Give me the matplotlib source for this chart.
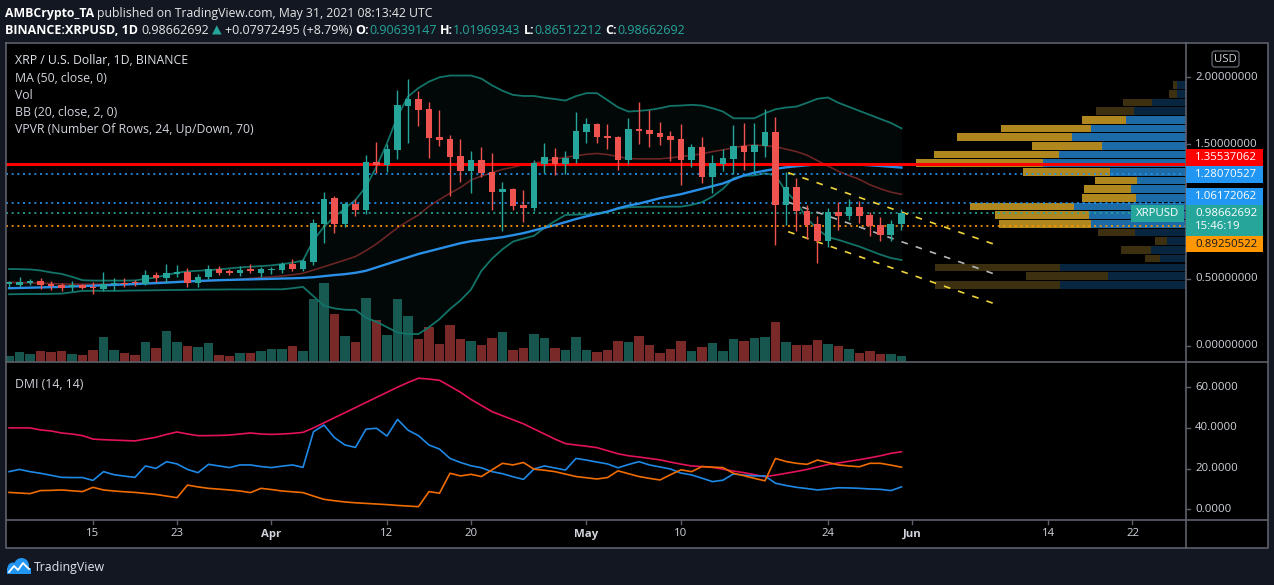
import numpy as np
import pandas as pd
import matplotlib
matplotlib.use("Agg")
import matplotlib.pyplot as plt
import matplotlib.dates as mdates
from matplotlib.patches import Rectangle, Circle, FancyBboxPatch
from matplotlib.lines import Line2D
from matplotlib.transforms import IdentityTransform

# ---------------------------------------------------------------- data
dates = pd.date_range("2021-03-07", "2021-05-31", freq="D")

open_ = [0.460, 0.457, 0.472, 0.484, 0.465, 0.455, 0.437, 0.452, 0.440, 0.425,
         0.460, 0.469, 0.472, 0.462, 0.529, 0.509, 0.539, 0.551, 0.472, 0.511,
         0.571, 0.556, 0.541, 0.571, 0.546, 0.566, 0.566, 0.611, 0.573, 0.625,
         0.908, 1.102, 0.908, 1.057, 1.013, 1.370, 1.348, 1.460, 1.790, 1.839,
         1.765, 1.556, 1.541, 1.415, 1.303, 1.385, 1.296, 1.149, 1.169, 1.050,
         1.030, 1.358, 1.407, 1.358, 1.395, 1.594, 1.653, 1.564, 1.556, 1.385,
         1.616, 1.609, 1.586, 1.564, 1.541, 1.385, 1.482, 1.258, 1.355, 1.392,
         1.489, 1.445, 1.489, 1.594, 1.050, 1.184, 1.005, 0.908, 0.782, 0.998,
         0.968, 1.035, 0.975, 0.901, 0.827, 0.90639147]
high = [0.487, 0.511, 0.502, 0.504, 0.484, 0.472, 0.482, 0.465, 0.474, 0.551,
        0.506, 0.504, 0.494, 0.566, 0.548, 0.613, 0.603, 0.581, 0.536, 0.603,
        0.593, 0.576, 0.596, 0.611, 0.591, 0.591, 0.628, 0.645, 0.645, 0.943,
        1.144, 1.117, 1.075, 1.092, 1.420, 1.522, 1.504, 1.906, 1.988, 1.898,
        1.817, 1.757, 1.571, 1.541, 1.452, 1.482, 1.437, 1.221, 1.176, 1.161,
        1.385, 1.512, 1.474, 1.452, 1.742, 1.698, 1.660, 1.653, 1.564, 1.698,
        1.817, 1.757, 1.668, 1.601, 1.653, 1.504, 1.556, 1.422, 1.464, 1.646,
        1.660, 1.660, 1.765, 1.705, 1.296, 1.251, 1.050, 0.968, 1.027, 1.072,
        1.095, 1.080, 0.998, 0.961, 0.938, 1.01969343]
low = [0.442, 0.442, 0.455, 0.427, 0.420, 0.410, 0.412, 0.427, 0.390, 0.410,
       0.420, 0.442, 0.445, 0.455, 0.474, 0.472, 0.516, 0.442, 0.442, 0.501,
       0.529, 0.531, 0.524, 0.541, 0.511, 0.536, 0.546, 0.561, 0.561, 0.605,
       0.769, 0.839, 0.888, 0.970, 0.983, 1.286, 1.298, 1.390, 1.514, 1.641,
       1.402, 1.489, 1.119, 1.224, 1.142, 1.261, 1.015, 0.859, 1.015, 0.926,
       1.008, 1.291, 1.276, 1.278, 1.365, 1.514, 1.512, 1.467, 1.310, 1.358,
       1.504, 1.482, 1.497, 1.378, 1.199, 1.333, 1.214, 1.140, 1.303, 1.281,
       1.310, 1.288, 1.407, 0.752, 0.901, 0.856, 0.797, 0.618, 0.737, 0.864,
       0.938, 0.916, 0.819, 0.782, 0.782, 0.86512212]
close = [0.474, 0.477, 0.487, 0.457, 0.450, 0.435, 0.455, 0.435, 0.428, 0.462,
         0.470, 0.465, 0.467, 0.529, 0.509, 0.544, 0.553, 0.472, 0.514, 0.571,
         0.541, 0.540, 0.566, 0.556, 0.571, 0.574, 0.611, 0.573, 0.633, 0.913,
         1.095, 0.908, 1.057, 1.013, 1.370, 1.348, 1.467, 1.795, 1.839, 1.757,
         1.551, 1.536, 1.407, 1.303, 1.385, 1.291, 1.149, 1.169, 1.045, 1.030,
         1.363, 1.407, 1.358, 1.400, 1.601, 1.653, 1.556, 1.549, 1.385, 1.616,
         1.601, 1.579, 1.556, 1.534, 1.385, 1.482, 1.258, 1.363, 1.400, 1.489,
         1.445, 1.497, 1.594, 1.050, 1.184, 1.005, 0.901, 0.782, 0.998, 0.968,
         1.035, 0.968, 0.894, 0.827, 0.908, 0.98662692]
volume = [6, 10, 8, 11, 10, 11, 8, 7, 12, 25,
          12, 9, 7, 20, 14, 31, 20, 16, 15, 19,
          7, 6, 9, 9, 11, 13, 13, 16, 11, 63,
          79, 48, 26, 20, 64, 42, 27, 63, 46, 23,
          35, 18, 37, 23, 21, 17, 24, 30, 12, 14,
          28, 24, 14, 12, 25, 12, 10, 12, 21, 20,
          26, 17, 9, 13, 21, 11, 15, 19, 11, 23,
          21, 24, 25, 40, 20, 17, 17, 22, 18, 16,
          13, 9, 11, 8, 8, 6]
ma50 = [0.430, 0.432, 0.434, 0.436, 0.438, 0.440, 0.443, 0.446, 0.449, 0.452,
        0.455, 0.458, 0.461, 0.465, 0.468, 0.472, 0.476, 0.480, 0.484, 0.487,
        0.490, 0.492, 0.494, 0.496, 0.498, 0.500, 0.502, 0.504, 0.507, 0.512,
        0.520, 0.528, 0.535, 0.545, 0.560, 0.585, 0.610, 0.635, 0.660, 0.685,
        0.705, 0.725, 0.745, 0.765, 0.780, 0.790, 0.800, 0.810, 0.825, 0.840,
        0.860, 0.880, 0.900, 0.922, 0.945, 0.965, 0.983, 1.000, 1.025, 1.045,
        1.060, 1.080, 1.100, 1.115, 1.130, 1.150, 1.170, 1.190, 1.210, 1.240,
        1.270, 1.290, 1.305, 1.318, 1.330, 1.338, 1.345, 1.352, 1.353, 1.353,
        1.353, 1.350, 1.345, 1.340, 1.334, 1.328]
bb_upper = [0.573, 0.572, 0.570, 0.562, 0.548, 0.537, 0.515, 0.490, 0.487, 0.487,
            0.487, 0.487, 0.488, 0.500, 0.510, 0.530, 0.545, 0.555, 0.560, 0.565,
            0.570, 0.578, 0.585, 0.590, 0.595, 0.600, 0.610, 0.620, 0.637, 0.787,
            0.888, 0.962, 1.025, 1.087, 1.186, 1.335, 1.509, 1.708, 1.857, 1.920,
            1.968, 2.000, 2.013, 2.013, 2.013, 1.990, 1.940, 1.900, 1.869, 1.861,
            1.861, 1.848, 1.838, 1.827, 1.860, 1.882, 1.882, 1.830, 1.777, 1.745,
            1.750, 1.757, 1.770, 1.787, 1.790, 1.795, 1.790, 1.770, 1.745, 1.695,
            1.695, 1.695, 1.733, 1.762, 1.775, 1.782, 1.810, 1.840, 1.850, 1.810,
            1.780, 1.750, 1.720, 1.690, 1.660, 1.620]
bb_basis = [0.474, 0.472, 0.470, 0.468, 0.465, 0.462, 0.460, 0.460, 0.460, 0.460,
            0.461, 0.463, 0.466, 0.470, 0.473, 0.476, 0.479, 0.482, 0.484, 0.486,
            0.489, 0.492, 0.497, 0.503, 0.510, 0.515, 0.521, 0.530, 0.541, 0.565,
            0.590, 0.615, 0.640, 0.666, 0.710, 0.760, 0.820, 0.880, 0.930, 0.975,
            1.040, 1.090, 1.137, 1.180, 1.235, 1.265, 1.290, 1.315, 1.330, 1.350,
            1.360, 1.375, 1.390, 1.405, 1.415, 1.427, 1.433, 1.425, 1.410, 1.395,
            1.393, 1.393, 1.393, 1.400, 1.410, 1.420, 1.430, 1.447, 1.460, 1.475,
            1.490, 1.497, 1.490, 1.484, 1.465, 1.447, 1.420, 1.380, 1.340, 1.300,
            1.270, 1.240, 1.200, 1.170, 1.145, 1.129]
bb_lower = [0.385, 0.386, 0.387, 0.387, 0.388, 0.390, 0.400, 0.410, 0.411, 0.411,
            0.410, 0.412, 0.413, 0.414, 0.415, 0.416, 0.417, 0.418, 0.419, 0.420,
            0.420, 0.421, 0.421, 0.421, 0.422, 0.422, 0.422, 0.430, 0.440, 0.370,
            0.300, 0.280, 0.270, 0.268, 0.210, 0.180, 0.140, 0.100, 0.089, 0.089,
            0.140, 0.200, 0.275, 0.340, 0.420, 0.560, 0.650, 0.720, 0.777, 0.800,
            0.820, 0.880, 0.930, 0.975, 0.978, 0.980, 0.983, 1.000, 1.020, 1.033,
            1.035, 1.037, 1.037, 1.037, 1.037, 1.050, 1.070, 1.112, 1.170, 1.250,
            1.266, 1.270, 1.285, 1.270, 1.150, 1.070, 0.950, 0.870, 0.810, 0.790,
            0.765, 0.740, 0.710, 0.680, 0.655, 0.640]
adx = [40.0, 40.0, 40.0, 39.0, 38.5, 37.5, 37.0, 36.2, 34.5, 34.2,
       34.0, 33.8, 33.6, 34.5, 35.4, 36.8, 38.0, 37.0, 36.2, 36.2,
       36.3, 36.5, 37.0, 37.5, 37.0, 36.8, 37.0, 37.3, 37.8, 40.0,
       42.5, 45.0, 47.5, 50.0, 52.5, 55.0, 57.5, 60.0, 62.3, 64.4,
       64.0, 63.4, 60.5, 57.5, 54.0, 51.0, 48.0, 46.0, 44.0, 42.0,
       39.5, 37.0, 34.5, 32.3, 31.6, 31.0, 30.3, 28.8, 27.3, 26.3,
       25.7, 25.0, 24.3, 23.2, 22.2, 21.3, 21.0, 20.6, 19.7, 18.8,
       18.0, 17.0, 16.0, 16.8, 17.7, 18.6, 19.6, 20.8, 22.0, 22.8,
       23.6, 24.4, 25.3, 26.3, 27.5, 28.3]
di_plus = [18.5, 19.6, 18.5, 17.7, 16.7, 15.7, 15.6, 15.6, 14.2, 18.5,
           17.0, 16.3, 15.7, 21.3, 20.1, 23.4, 22.3, 19.6, 18.0, 22.1,
           21.3, 20.5, 21.8, 21.8, 21.0, 20.5, 21.2, 21.8, 20.6, 38.1,
           41.4, 35.2, 31.6, 30.4, 39.4, 39.8, 36.0, 44.2, 38.9, 36.2,
           31.6, 29.6, 25.0, 23.0, 21.4, 20.4, 18.5, 17.5, 16.0, 14.7,
           19.8, 21.3, 20.3, 19.3, 25.0, 24.2, 23.2, 22.3, 20.4, 22.0,
           23.4, 21.8, 20.8, 19.8, 17.8, 16.9, 15.3, 13.6, 14.3, 17.4,
           16.8, 16.4, 16.4, 12.8, 11.7, 10.8, 10.2, 9.5, 10.0, 10.6,
           10.5, 10.3, 10.0, 9.8, 9.2, 11.0]
di_minus = [8.3, 8.0, 7.7, 9.2, 9.3, 9.5, 9.1, 8.7, 10.8, 9.5,
            9.0, 8.6, 8.3, 7.8, 7.3, 6.5, 5.7, 11.9, 11.0, 10.3,
            9.9, 9.5, 9.0, 8.2, 10.3, 9.7, 9.0, 8.6, 8.2, 6.5,
            4.9, 4.2, 3.6, 3.2, 2.9, 2.6, 2.3, 1.9, 1.6, 1.3,
            8.7, 7.9, 17.7, 16.4, 17.2, 16.1, 19.4, 22.6, 21.8, 23.0,
            19.7, 19.2, 18.5, 17.3, 16.1, 15.5, 14.9, 15.6, 18.9, 17.5,
            16.1, 15.2, 14.4, 17.0, 19.4, 18.5, 21.0, 20.7, 20.5, 17.7,
            16.5, 15.2, 14.0, 25.0, 23.5, 22.6, 22.1, 24.2, 23.0, 21.8,
            21.3, 20.9, 22.6, 22.6, 21.7, 20.7]

# Visible-range volume profile, 24 rows, bottom row first
vp_low, vp_high = 0.424, 1.975
vp_up = [126, 78, 126, 26, 35, 19, 51, 95, 97, 112, 50, 55, 49, 76, 143, 127,
         84, 114, 95, 60, 52, 34, 9, 9]
vp_down = [125, 82, 125, 15, 30, 12, 37, 92, 94, 104, 54, 47, 42, 87, 127, 125,
           70, 115, 90, 44, 38, 29, 8, 4]
vp_value_area = (7, 19)

poc_price = 1.35537062
blue_levels = [1.28070527, 1.06172062]
last_price = 0.98662692
orange_level = 0.89250522
countdown = "15:46:19"

channel_dates = ["2021-05-20 05:00", "2021-06-09 05:00"]
channel_upper = [1.290, 0.747]
channel_lower = [0.851, 0.305]

price_ticks = [0.0, 0.5, 1.5, 2.0]
dmi_ticks = [0, 20, 40, 60]
date_ticks = ["2021-03-15", "2021-03-23", "2021-04-01", "2021-04-12", "2021-04-20",
              "2021-05-01", "2021-05-10", "2021-05-24", "2021-06-01", "2021-06-14",
              "2021-06-22"]
date_labels = ["15", "23", "Apr", "12", "20", "May", "10", "24", "Jun", "14", "22"]
month_labels = {"Apr", "May", "Jun"}

title1 = [("AMBCrypto_TA", "#ffffff", "bold"),
          (" published on TradingView.com, May 31, 2021 08:13:42 UTC", "#e6e6e6", "normal")]
legend_lines = ["XRP / U.S. Dollar, 1D, BINANCE", "MA (50, close, 0)", "Vol",
                "BB (20, close, 2, 0)", "VPVR (Number Of Rows, 24, Up/Down, 70)"]

# ---------------------------------------------------------------- style
W, H = 1274, 585
BG = "#131722"
PANE = "#000000"
TXT = "#d1d4dc"
BORDER = "#5d606b"
UP, DOWN = "#26a69a", "#ef5350"
VOL_UP, VOL_DOWN = "#16564f", "#7a2929"
FONT = ["Open Sans", "DejaVu Sans"]
AXFONT = ["Open Sans", "DejaVu Sans"]

fig = plt.figure(figsize=(W / 100, H / 100), dpi=100)
fig.patch.set_facecolor(BG)
renderer = fig.canvas.get_renderer()


def frect(l, t, r, b):
    return [l / W, 1 - b / H, (r - l) / W, (b - t) / H]


def fbox(x0, y0, x1, y1, fc, ec="none", lw=0, z=5):
    fig.add_artist(Rectangle((x0 / W, 1 - y1 / H), (x1 - x0) / W, (y1 - y0) / H,
                             transform=fig.transFigure, facecolor=fc,
                             edgecolor=ec, linewidth=lw, zorder=z))


def fline(xs, ys, color, lw=1.0, z=6):
    fig.add_artist(Line2D([x / W for x in xs], [1 - y / H for y in ys],
                          transform=fig.transFigure, color=color, lw=lw, zorder=z))


def ftext(x, y, s, size, color=TXT, weight="normal", ha="left", family=FONT, z=8):
    return fig.text(x / W, 1 - y / H, s, fontsize=size, color=color, fontweight=weight,
                    ha=ha, va="center", family=family, zorder=z)


def text_w(s, size, weight="normal", family=FONT):
    t = fig.text(0, 0, s, fontsize=size, fontweight=weight, family=family)
    w = t.get_window_extent(renderer).width
    t.remove()
    return w


def space_w(size, weight):
    return text_w("a a", size, weight) - text_w("aa", size, weight)


def runs_width(parts, size):
    tot = 0.0
    for s, _, wt in parts:
        core = s.strip(" ")
        nsp = len(s) - len(core)
        tot += (text_w(core, size, wt) if core else 0) + nsp * space_w(size, wt)
    return tot


def draw_runs(x, y, parts, size):
    for s, col, wt in parts:
        lead = len(s) - len(s.lstrip(" "))
        trail = len(s) - len(s.rstrip(" "))
        core = s.strip(" ")
        sw = space_w(size, wt)
        x += lead * sw
        if core:
            ftext(x, y, core, size, color=col, weight=wt)
            x += text_w(core, size, wt)
        x += trail * sw


def fit_size(parts, target, base=8.0):
    return base * target / runs_width(parts, base)


# chart backdrop
fbox(6, 42.5, 1268, 548, PANE, z=-1)

x = mdates.date2num(dates)
o = np.array(open_); c = np.array(close); hi = np.array(high); lo = np.array(low)
is_up = c >= o
x0 = x[0] - 0.286
x1 = x[0] + 112.1
price_lim = ((346 - 361.5) / 134.35, (346 - 43) / 134.35)
main_rect = frect(6, 43, 1186, 361.5)

# volume (bottom layer)
vax = fig.add_axes(main_rect, facecolor=PANE)
vax.bar(x, volume, width=0.9, color=np.where(is_up, VOL_UP, VOL_DOWN), linewidth=0)
vax.set_xlim(x0, x1)
vax.set_ylim(0, 318.5)
vax.axis("off")

# volume profile layer
vpax = fig.add_axes(main_rect, facecolor="none")
n_rows = len(vp_up)
edges = np.linspace(vp_low, vp_high, n_rows + 1)
row_h = edges[1] - edges[0]
in_va = np.array([vp_value_area[0] <= i <= vp_value_area[1] for i in range(n_rows)])
vpax.barh(edges[:-1] + row_h * 0.06, vp_up, height=row_h * 0.88, left=0, align="edge",
          color=np.where(in_va, "#1c6ba6", "#08263f"), linewidth=0)
vpax.barh(edges[:-1] + row_h * 0.06, vp_down, height=row_h * 0.88, left=vp_up,
          align="edge", color=np.where(in_va, "#b0871e", "#3d3011"), linewidth=0)
vpax.set_xlim(1180, 0)
vpax.set_ylim(*price_lim)
vpax.axis("off")

# main price pane
ax = fig.add_axes(main_rect, facecolor="none")
ax.set_xlim(x0, x1)
ax.set_ylim(*price_lim)
ax.axis("off")

ax.fill_between(x, bb_lower, bb_upper, color="#26a69a", alpha=0.05, linewidth=0, zorder=1)
ax.plot(x, bb_upper, color="#137368", lw=1.3, zorder=2)
ax.plot(x, bb_lower, color="#137368", lw=1.3, zorder=2)
ax.plot(x, bb_basis, color="#6b2424", lw=1.2, zorder=2)
ax.plot(x, ma50, color="#2a8fe6", lw=1.7, zorder=3)

ax.axhline(poc_price, color="#ff0000", lw=2.2, zorder=4)
for lvl in blue_levels:
    ax.axhline(lvl, color="#2196f3", lw=1.2, ls=(0, (1.2, 2.2)), zorder=4)
ax.axhline(last_price, color="#26a69a", lw=1.2, ls=(0, (1.2, 2.2)), zorder=4)
ax.axhline(orange_level, color="#ff9800", lw=1.2, ls=(0, (1.2, 2.2)), zorder=4)

cx = mdates.date2num(pd.to_datetime(channel_dates))
ch_mid = [(a + b) / 2 for a, b in zip(channel_upper, channel_lower)]
ax.plot(cx, channel_upper, color="#f0d43a", lw=1.2, dashes=(4, 5), zorder=4.5)
ax.plot(cx, channel_lower, color="#f0d43a", lw=1.2, dashes=(4, 5), zorder=4.5)
ax.plot(cx, ch_mid, color="#b5b5b5", lw=1.2, dashes=(4, 5), zorder=4.5)

cols = np.where(is_up, UP, DOWN)
ax.vlines(x, lo, hi, colors=cols, lw=1.0, zorder=5)
body_lo = np.minimum(o, c)
body_h = np.maximum(np.abs(c - o), 0.006)
ax.bar(x, body_h, bottom=body_lo, width=0.66, color=cols, linewidth=0, zorder=6)

# DMI pane
dax = fig.add_axes(frect(6, 362.5, 1186, 520), facecolor=PANE)
dax.plot(x, adx, color="#e3125a", lw=1.2)
dax.plot(x, di_plus, color="#1e88e5", lw=1.2)
dax.plot(x, di_minus, color="#ef6c00", lw=1.2)
dax.set_xlim(x0, x1)
dax.set_ylim((509.3 - 520) / 2.035, (509.3 - 362.5) / 2.035)
dax.axis("off")


def img_y(axis, v):
    return H - axis.transData.transform((axis.get_xlim()[0], v))[1]


def img_x(axis, v):
    return axis.transData.transform((v, axis.get_ylim()[0]))[0]


# frame lines
fline([6, 1268, 1268, 6, 6], [42.5, 42.5, 548, 548, 42.5], BORDER, lw=1.2)
fline([1186, 1186], [42.5, 548], BORDER, lw=1.2)
fline([6, 1268], [362, 362], BORDER, lw=1.2)
fline([6, 1268], [520, 520], BORDER, lw=1.2)

# price axis
ax_size = 7.3 * 61 / text_w("2.00000000", 7.3, family=AXFONT)
for p in price_ticks:
    yy = img_y(ax, p)
    fline([1186, 1190], [yy, yy], BORDER, lw=1)
    ftext(1195, yy, f"{p:.8f}", ax_size, color=TXT, family=AXFONT)

# USD box
fig.add_artist(FancyBboxPatch((1212, H - 67), 27, 16, boxstyle="round,pad=0,rounding_size=3",
                              transform=IdentityTransform(), facecolor="none",
                              edgecolor=BORDER, linewidth=1, zorder=7))
ftext(1225.5, 59, "USD", ax_size, color=TXT, ha="center", family=AXFONT)

# level labels (image-pixel offsets to avoid overlap, as TradingView does)
labels = [(poc_price, "#ff0000", "#ffffff", -6.3),
          (blue_levels[0], "#2196f3", "#ffffff", 0.5),
          (blue_levels[1], "#2196f3", "#ffffff", -7.0),
          (orange_level, "#ff9800", "#131722", 18.0)]
for val, bg, fg, off in labels:
    yy = img_y(ax, val) + off
    fbox(1186, yy - 8.3, 1263, yy + 8.3, bg, z=7)
    ftext(1195, yy, f"{val:.8f}", ax_size, color=fg, family=AXFONT)

yl = img_y(ax, last_price)
fbox(1186, yl - 8.2, 1263, yl + 22.2, "#26a69a", z=7)
ftext(1195, yl, f"{last_price:.8f}", ax_size, color="#ffffff", family=AXFONT)
ftext(1195, yl + 13.5, countdown, ax_size, color="#ffffff", family=AXFONT)
fbox(1131, yl - 8.5, 1184, yl + 8.8, "#26a69a", z=7)
ftext(1157.5, yl, "XRPUSD", ax_size, color="#ffffff", ha="center", family=AXFONT)

# DMI axis
for v in dmi_ticks:
    yy = img_y(dax, v)
    fline([1186, 1190], [yy, yy], BORDER, lw=1)
    ftext(1195, yy, f"{v:.4f}", ax_size, color=TXT, family=AXFONT)

# date axis
for d, lab in zip(date_ticks, date_labels):
    xx = img_x(dax, mdates.date2num(pd.Timestamp(d)))
    fline([xx, xx], [520, 524], BORDER, lw=1)
    ftext(xx, 534, lab, ax_size, color=TXT, ha="center",
          weight="bold" if lab in month_labels else "normal", family=AXFONT)

# header
h1 = fit_size(title1, 429)
draw_runs(5, 13, title1, h1)
teal = "#26a69a"
white = "#ffffff"
title2 = [("BINANCE:XRPUSD, 1D", white, "bold"),
          (f" {close[-1]:.8f} ", "#e6e6e6", "normal"),
          ("\u25b2", teal, "normal"),
          (f" +{close[-1] - close[-2]:.8f} (+8.79%) ", "#e6e6e6", "normal"),
          ("O:", white, "bold"), (f"{open_[-1]:.8f}", teal, "normal"),
          (" H:", white, "bold"), (f"{high[-1]:.8f}", teal, "normal"),
          (" L:", white, "bold"), (f"{low[-1]:.8f}", teal, "normal"),
          (" C:", white, "bold"), (f"{close[-1]:.8f}", teal, "normal")]
title2[3] = (" +0.07972495 (+8.79%) ", "#e6e6e6", "normal")
draw_runs(5, 30, title2, fit_size(title2, 678))

# pane legends
lg = fit_size([(legend_lines[-1], TXT, "normal")], 240)
for i, s in enumerate(legend_lines):
    ftext(15, 61 + 17.1 * i, s, lg, color="#e0e3eb" if i == 0 else TXT)
ftext(15, 384, "DMI (14, 14)", lg, color=TXT)

# footer logo + name
logo = "#2196f3"
for (cxp, cyp, r) in [(13, 568, 5.5), (21.5, 565.5, 7.5)]:
    fig.add_artist(Circle((cxp, H - cyp), r, transform=IdentityTransform(),
                          facecolor=logo, edgecolor="none", zorder=7))
fig.add_artist(Rectangle((7, H - 574), 24, 6, transform=IdentityTransform(),
                         facecolor=logo, edgecolor="none", zorder=7))
fig.add_artist(Line2D([9, 14, 18, 23, 29], [H - 572, H - 566, H - 570, H - 563, H - 569],
                      transform=IdentityTransform(), color="#ffffff", lw=1.3, zorder=8))
ft = fit_size([("TradingView", TXT, "normal")], 71)
ftext(34, 567, "TradingView", ft, color="#e0e3eb")

fig.savefig("out.png", dpi=100, facecolor=BG)
